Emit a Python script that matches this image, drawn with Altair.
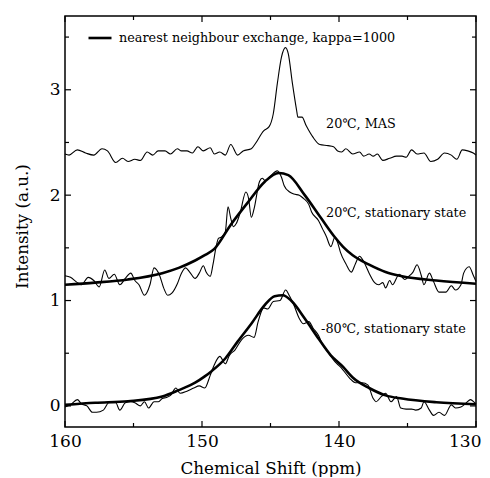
import altair as alt
import pandas as pd

FONT = "DejaVu Serif"

# ---- data ----
mas_x = [160.0,159.7,159.1,158.5,157.9,157.3,156.9,156.3,155.8,155.4,154.9,154.5,154.0,153.6,153.2,152.7,152.3,151.8,151.5,151.1,150.7,150.3,149.9,149.4,149.1,148.7,148.3,147.9,147.4,147.0,146.4,146.1,145.5,145.1,144.8,144.5,144.2,143.9,143.7,143.4,143.1,143.0,142.7,142.4,141.9,141.4,140.8,140.4,140.1,139.8,139.5,139.0,138.5,138.2,137.8,137.5,137.2,136.8,136.3,135.8,135.4,135.1,134.7,134.3,133.8,133.3,132.8,132.3,131.8,131.4,131.0,130.6,130.2,130.0]
mas_y = [2.39,2.38,2.43,2.40,2.38,2.44,2.42,2.31,2.35,2.32,2.34,2.33,2.41,2.38,2.42,2.42,2.39,2.44,2.42,2.42,2.40,2.46,2.42,2.45,2.39,2.41,2.38,2.48,2.38,2.42,2.44,2.49,2.61,2.65,2.77,3.06,3.31,3.40,3.34,3.06,2.81,2.74,2.74,2.66,2.55,2.48,2.47,2.46,2.42,2.41,2.44,2.39,2.41,2.37,2.39,2.37,2.39,2.33,2.35,2.37,2.37,2.36,2.43,2.39,2.40,2.32,2.34,2.40,2.38,2.34,2.43,2.42,2.40,2.38]

st20_x = [160.0,159.6,159.1,158.8,158.3,157.9,157.5,157.1,156.8,156.4,156.0,155.6,155.2,154.9,154.6,154.2,153.8,153.5,153.1,152.8,152.5,152.2,151.8,151.5,151.2,150.9,150.5,150.2,149.9,149.7,149.4,149.2,149.0,148.8,148.6,148.3,148.1,147.9,147.7,147.5,147.2,146.8,146.6,146.4,146.2,145.8,145.6,145.4,145.1,144.5,144.2,144.0,143.6,143.3,142.9,142.6,142.2,142.0,141.5,141.2,140.9,140.7,140.6,140.3,140.1,139.9,139.5,139.1,138.8,138.5,138.2,137.8,137.4,137.1,136.8,136.6,136.3,136.1,135.6,135.2,134.9,134.6,134.3,134.0,133.8,133.4,133.1,132.7,132.2,131.8,131.5,131.1,130.9,130.5,130.2,130.0]
st20_y = [1.235,1.22,1.17,1.15,1.22,1.19,1.13,1.29,1.21,1.25,1.15,1.21,1.26,1.19,1.15,1.05,1.15,1.31,1.24,1.12,1.05,1.07,1.16,1.26,1.31,1.27,1.21,1.26,1.33,1.27,1.23,1.34,1.49,1.59,1.60,1.65,1.89,1.78,1.70,1.73,1.84,2.03,1.97,1.79,1.87,2.13,2.16,2.14,2.17,2.23,2.17,2.09,2.03,2.01,2.00,1.97,1.91,1.84,1.76,1.68,1.60,1.53,1.51,1.60,1.55,1.46,1.35,1.27,1.35,1.42,1.37,1.26,1.17,1.15,1.17,1.12,1.19,1.15,1.25,1.20,1.23,1.27,1.34,1.24,1.15,1.26,1.18,1.08,1.08,1.14,1.10,1.15,1.26,1.32,1.24,1.18]

m80_x = [160.0,159.6,159.1,158.8,158.4,158.0,157.7,157.2,156.8,156.3,156.0,155.6,155.2,154.9,154.5,154.2,153.9,153.5,153.2,152.9,152.6,152.3,151.9,151.6,151.1,150.6,150.2,149.8,149.4,149.1,148.7,148.3,148.0,147.6,147.1,146.6,146.2,145.9,145.5,145.2,144.8,144.3,143.9,143.6,143.3,142.9,142.6,142.2,141.9,141.5,141.2,140.8,140.3,139.9,139.7,139.2,138.8,138.3,137.9,137.5,137.3,136.9,136.6,136.2,135.8,135.5,135.1,134.7,134.4,134.0,133.8,133.4,133.1,132.7,132.3,131.8,131.5,131.1,130.7,130.4,130.1,130.0]
m80_y = [-0.01,0.01,0.06,0.02,0.00,-0.06,-0.06,-0.04,0.03,0.03,-0.04,0.03,0.04,0.03,0.00,0.04,-0.02,0.04,0.04,0.07,0.08,0.10,0.17,0.12,0.14,0.17,0.19,0.17,0.29,0.39,0.47,0.40,0.48,0.53,0.63,0.67,0.65,0.80,0.93,0.92,0.99,1.00,1.10,1.04,0.96,0.83,0.78,0.80,0.74,0.67,0.58,0.51,0.42,0.37,0.34,0.26,0.22,0.22,0.20,0.07,0.04,0.09,0.12,0.04,0.09,-0.02,-0.03,-0.03,-0.04,-0.02,0.04,-0.04,-0.09,-0.06,-0.09,0.01,-0.02,-0.01,0.03,0.06,0.03,0.02]

fit20_x = [160.0,157.8,155.4,152.9,151.7,150.5,149.8,149.1,147.9,146.6,145.4,144.4,143.7,142.5,141.3,140.3,139.7,139.0,137.8,136.6,135.4,132.9,130.0]
fit20_y = [1.15,1.17,1.20,1.26,1.31,1.38,1.43,1.49,1.72,1.94,2.13,2.21,2.19,2.00,1.78,1.60,1.51,1.43,1.34,1.27,1.23,1.19,1.16]

fit80_x = [160.0,157.8,155.4,152.9,151.7,150.5,149.8,149.3,148.3,147.4,146.4,145.4,144.7,144.1,143.5,142.5,141.5,140.6,139.7,139.0,137.8,136.6,135.4,132.9,130.0]
fit80_y = [0.01,0.03,0.045,0.09,0.15,0.22,0.28,0.33,0.45,0.61,0.78,0.96,1.04,1.05,1.00,0.83,0.64,0.48,0.37,0.27,0.17,0.10,0.07,0.035,0.016]

legend_label = "nearest neighbour exchange, kappa=1000"

ann_text = ["20℃, MAS", "20℃, stationary state", "-80℃, stationary state"]
ann_x = [140.95, 140.95, 141.31]
ann_y = [2.635, 1.796, 0.692]

xt_major = [160, 150, 140, 130]
xt_minor = [155, 145, 135]
yt_major = [0, 1, 2, 3]
yt_minor = [0.5, 1.5, 2.5, 3.5]

# ---- frames ----
def frame(xs, ys, name):
    d = pd.DataFrame({"ppm": xs, "intensity": ys})
    d["trace"] = name
    return d

raw = pd.concat([frame(mas_x, mas_y, "mas"),
                 frame(st20_x, st20_y, "st20"),
                 frame(m80_x, m80_y, "m80")], ignore_index=True)
fits = pd.concat([frame(fit20_x, fit20_y, "f20"),
                  frame(fit80_x, fit80_y, "f80")], ignore_index=True)
fits["label"] = legend_label
ann = pd.DataFrame({"ppm": ann_x, "intensity": ann_y, "label": ann_text})

W = 411
H = 411

X = alt.X("ppm:Q",
          scale=alt.Scale(domain=[130, 160], reverse=True, nice=False, zero=False),
          axis=alt.Axis(values=xt_major, ticks=False, domain=False, grid=False,
                        labelFont=FONT, labelFontSize=17, labelColor="black",
                        labelPadding=6, labelFlush=False,
                        labelAlign=alt.condition("datum.value == 130",
                                                 alt.value("right"), alt.value("center")),
                        labelOffset=alt.condition("datum.value == 130",
                                                  alt.value(5), alt.value(0)),
                        title="Chemical Shift (ppm)", titleFont=FONT,
                        titleFontSize=16.75, titleFontWeight="normal",
                        titleColor="black", titleY=46, titleBaseline="alphabetic"))
Y = alt.Y("intensity:Q",
          scale=alt.Scale(domain=[-0.2, 3.7], nice=False, zero=False),
          axis=alt.Axis(values=yt_major, ticks=False, domain=False, grid=False,
                        labelFont=FONT, labelFontSize=17, labelColor="black",
                        labelPadding=5,
                        title="Intensity (a.u.)", titleFont=FONT,
                        titleFontSize=16.75, titleFontWeight="normal",
                        titleColor="black", titleX=-43, titleY=210,
                        titleBaseline="middle"))

raw_layer = alt.Chart(raw).mark_line(color="black", strokeWidth=1.1,
                                     interpolate="monotone").encode(
    x=X, y=Y, detail="trace:N", order="ppm:Q")

fit_layer = alt.Chart(fits).mark_line(strokeWidth=2.6, interpolate="monotone").encode(
    x=X, y=Y, detail="trace:N",
    color=alt.Color("label:N", scale=alt.Scale(range=["black"]), title=None,
                    legend=alt.Legend(orient="none", legendX=22, legendY=9,
                                      symbolType="stroke", symbolSize=529,
                                      symbolStrokeWidth=2.6, symbolStrokeColor="black",
                                      labelFont=FONT, labelFontSize=12.8,
                                      labelColor="black", labelOffset=6,
                                      labelLimit=500, padding=0)))

text_layer = alt.Chart(ann).mark_text(align="left", baseline="alphabetic",
                                      font=FONT, fontSize=12.8, color="black").encode(
    x=X, y=Y, text="label:N")

def xticks(vals, length, top):
    d = pd.DataFrame({"ppm": vals})
    if top:
        enc = dict(y=alt.value(0), y2=alt.value(length))
    else:
        enc = dict(y=alt.value(H), y2=alt.value(H - length))
    return alt.Chart(d).mark_rule(color="black", strokeWidth=1.2).encode(x=X, **enc)

def yticks(vals, length, right):
    d = pd.DataFrame({"intensity": vals})
    if right:
        enc = dict(x=alt.value(W), x2=alt.value(W - length))
    else:
        enc = dict(x=alt.value(0), x2=alt.value(length))
    return alt.Chart(d).mark_rule(color="black", strokeWidth=1.2).encode(y=Y, **enc)

ticks = [xticks(xt_major, 6, False), xticks(xt_minor, 4, False),
         xticks(xt_major, 6, True), xticks(xt_minor, 4, True),
         yticks(yt_major, 6, False), yticks(yt_minor, 4, False),
         yticks(yt_major, 6, True), yticks(yt_minor, 4, True)]

chart = alt.layer(raw_layer, fit_layer, text_layer, *ticks).properties(
    width=W, height=H,
    autosize=alt.AutoSizeParams(type="none"),
    padding={"left": 57, "top": 8, "right": 6, "bottom": 50},
    background="white",
).configure_view(stroke="black", strokeWidth=1.5)

chart.save("out.html", embed_options={"renderer": "svg", "actions": False})
